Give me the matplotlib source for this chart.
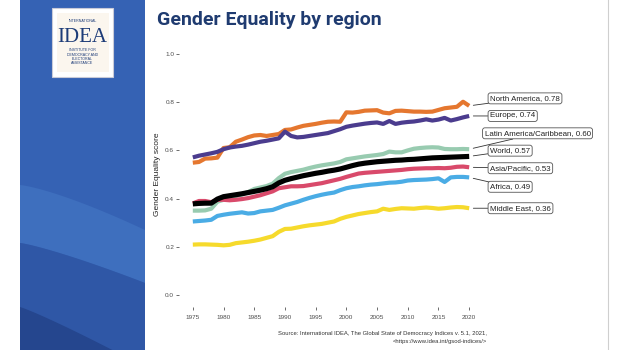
import numpy as np
import matplotlib.pyplot as plt
from matplotlib.patches import Rectangle, Polygon

plt.rcParams['font.family'] = ['Liberation Sans', 'DejaVu Sans']

## data (1975-2020)
years = list(range(1975, 2021))

north_america = [0.549, 0.552, 0.566, 0.567, 0.570, 0.610, 0.613, 0.636, 0.645, 0.655,
                 0.662, 0.664, 0.660, 0.664, 0.668, 0.685, 0.687, 0.695, 0.702, 0.706,
                 0.710, 0.715, 0.719, 0.720, 0.719, 0.758, 0.757, 0.760, 0.765, 0.766,
                 0.767, 0.757, 0.754, 0.764, 0.765, 0.763, 0.761, 0.761, 0.760, 0.761,
                 0.768, 0.775, 0.778, 0.781, 0.802, 0.785]
europe = [0.571, 0.578, 0.583, 0.588, 0.594, 0.605, 0.612, 0.616, 0.619, 0.624,
          0.630, 0.636, 0.640, 0.645, 0.650, 0.678, 0.660, 0.654, 0.656, 0.660,
          0.664, 0.668, 0.672, 0.680, 0.688, 0.698, 0.703, 0.707, 0.711, 0.714,
          0.716, 0.710, 0.722, 0.710, 0.715, 0.718, 0.720, 0.724, 0.729, 0.724,
          0.728, 0.735, 0.724, 0.730, 0.737, 0.743]
latin_america = [0.350, 0.350, 0.351, 0.358, 0.387, 0.395, 0.401, 0.410, 0.418, 0.427,
                 0.440, 0.446, 0.452, 0.462, 0.485, 0.503, 0.510, 0.515, 0.520, 0.527,
                 0.533, 0.538, 0.542, 0.546, 0.552, 0.563, 0.567, 0.571, 0.575, 0.578,
                 0.581, 0.585, 0.595, 0.592, 0.592, 0.600, 0.607, 0.610, 0.612, 0.613,
                 0.612, 0.606, 0.605, 0.605, 0.606, 0.605]
world = [0.378, 0.380, 0.381, 0.381, 0.398, 0.408, 0.412, 0.416, 0.420, 0.425,
         0.430, 0.435, 0.441, 0.449, 0.465, 0.476, 0.483, 0.489, 0.495, 0.500,
         0.505, 0.509, 0.514, 0.518, 0.523, 0.530, 0.537, 0.543, 0.547, 0.550,
         0.553, 0.555, 0.557, 0.559, 0.560, 0.562, 0.563, 0.565, 0.567, 0.569,
         0.570, 0.571, 0.572, 0.573, 0.574, 0.575]
asia_pacific = [0.380, 0.390, 0.390, 0.385, 0.395, 0.395, 0.393, 0.395, 0.398, 0.402,
                0.408, 0.414, 0.422, 0.430, 0.443, 0.447, 0.451, 0.451, 0.452, 0.456,
                0.460, 0.464, 0.470, 0.476, 0.482, 0.490, 0.497, 0.504, 0.507, 0.509,
                0.511, 0.513, 0.515, 0.517, 0.519, 0.522, 0.524, 0.525, 0.526, 0.526,
                0.527, 0.526, 0.528, 0.532, 0.533, 0.530]
africa = [0.305, 0.307, 0.309, 0.312, 0.328, 0.333, 0.337, 0.340, 0.343, 0.338,
          0.340, 0.347, 0.350, 0.353, 0.362, 0.372, 0.379, 0.386, 0.395, 0.403,
          0.410, 0.416, 0.421, 0.425, 0.435, 0.443, 0.448, 0.451, 0.455, 0.458,
          0.460, 0.463, 0.466, 0.467, 0.470, 0.475, 0.477, 0.478, 0.479, 0.481,
          0.484, 0.469, 0.488, 0.490, 0.490, 0.488]
middle_east = [0.209, 0.210, 0.210, 0.209, 0.208, 0.206, 0.208, 0.215, 0.218, 0.221,
               0.225, 0.230, 0.237, 0.244, 0.262, 0.274, 0.275, 0.280, 0.285, 0.289,
               0.292, 0.295, 0.300, 0.305, 0.316, 0.324, 0.330, 0.336, 0.340, 0.344,
               0.347, 0.358, 0.353, 0.357, 0.360, 0.359, 0.358, 0.361, 0.363, 0.361,
               0.358, 0.360, 0.363, 0.365, 0.364, 0.360]

regions = ['North America', 'Europe', 'Latin America/Caribbean', 'Asia/Pacific',
           'Africa', 'Middle East', 'World']
series = [north_america, europe, latin_america, asia_pacific, africa, middle_east, world]
labels = ['North America, 0.78', 'Europe, 0.74', 'Latin America/Caribbean, 0.60',
          'Asia/Pacific, 0.53', 'Africa, 0.49', 'Middle East, 0.36', 'World, 0.57']
colors = ['#e5772f', '#4b3c8e', '#98cbb0', '#d94a6b', '#4aace5', '#f6da2c', '#000000']

# where the repelled labels sit (data coords)
label_x = [2023.4, 2023.4, 2022.5, 2023.4, 2023.4, 2023.4, 2023.4]
label_y = [0.816, 0.743, 0.671, 0.526, 0.449, 0.360, 0.599]

fig = plt.figure(figsize=(6.3, 3.5), dpi=100)

## slide background (pixel coords)
bg = fig.add_axes([0, 0, 1, 1])
bg.set_xlim(0, 630)
bg.set_ylim(350, 0)
bg.axis('off')

bg.add_patch(Rectangle((20, 0), 125, 350, fc='#3562b4', ec='none'))
t = np.linspace(0, 1, 50)
c0x, c0y = 20 + 125 * t, 185 + 45 * t ** 1.3
c1x, c1y = 20 + 125 * t, 243 + 40 * t ** 1.2
c2x, c2y = 20 + 125 * t, 307 + 60 * t ** 1.1
bg.add_patch(Polygon(np.column_stack([np.r_[c0x, c1x[::-1]], np.r_[c0y, c1y[::-1]]]),
                     fc='#3e6fbe', ec='none'))
bg.add_patch(Polygon(np.column_stack([np.r_[c1x, 145, 20], np.r_[c1y, 350, 350]]),
                     fc='#2f57a6', ec='none'))
bg.add_patch(Polygon(np.column_stack([np.r_[c2x, 145, 20], np.r_[c2y, 350, 350]]),
                     fc='#25468e', ec='none'))

# logo
bg.add_patch(Rectangle((52, 8), 61, 69, fc='white', ec='#c9cbd8', lw=0.8))
bg.add_patch(Rectangle((56.5, 13), 52, 59, fc='#fbf6ee', ec='none'))
navy = '#1d3c78'
bg.text(82.5, 20.5, 'INTERNATIONAL', fontsize=2.6, color=navy, ha='center', va='center')
bg.text(82.5, 37, 'IDEA', fontsize=15, color=navy, ha='center', va='center',
        family='Liberation Serif')
for txt, yy in zip(['INSTITUTE FOR', 'DEMOCRACY AND', 'ELECTORAL', 'ASSISTANCE'],
                   [50, 54.5, 59, 63.3]):
    bg.text(82.5, yy, txt, fontsize=2.6, color=navy, ha='center', va='center')

bg.plot([608, 608], [0, 350], color='#cfcfcf', lw=0.8)

bg.text(157, 20, 'Gender Equality by region', fontsize=14, fontweight='bold',
        color='#1f3b70', ha='left', va='center', family=['Roboto', 'DejaVu Sans'])

bg.text(487, 333, 'Source: International IDEA, The Global State of Democracy Indices v. 5.1, 2021,',
        fontsize=4.2, color='#333333', ha='right', va='center')
bg.text(487, 341, '<https://www.idea.int/gsod-indices/>',
        fontsize=4.2, color='#333333', ha='right', va='center')

## chart
ax = fig.add_axes([179 / 630, 43 / 350, 304 / 630, 265 / 350])
ax.patch.set_alpha(0)
for name, vals, col in zip(regions, series, colors):
    lw = 3.7 if name == 'World' else 3.0
    ax.plot(years, vals, color=col, lw=lw, solid_joinstyle='round', solid_capstyle='butt')

for vals, lab, lx, ly in zip(series, labels, label_x, label_y):
    ax.annotate(lab, xy=(years[-1], vals[-1]), xytext=(lx, ly), textcoords='data',
                fontsize=5.7, color='#222222', ha='left', va='center',
                annotation_clip=False,
                bbox=dict(boxstyle='round,pad=0.25,rounding_size=0.3', fc='white',
                          ec='#555555', lw=0.6),
                arrowprops=dict(arrowstyle='-', color='#333333', lw=0.6,
                                shrinkA=0, shrinkB=3))

ax.set_xlim(1972.75, 2022.25)
ax.set_ylim(-0.05, 1.05)
ax.set_xticks(range(1975, 2021, 5))
ax.set_yticks([0.0, 0.2, 0.4, 0.6, 0.8, 1.0])
ax.set_yticklabels(['0.0', '0.2', '0.4', '0.6', '0.8', '1.0'])
for s in ax.spines.values():
    s.set_visible(False)
ax.tick_params(length=2, width=0.5, color='#333333', labelsize=4.6,
               labelcolor='#4d4d4d', pad=1.5)
ax.tick_params(axis='x', pad=4)
ax.set_ylabel('Gender Equality score', fontsize=6, color='#222222', labelpad=3)

fig.savefig('out.png', dpi=100)
